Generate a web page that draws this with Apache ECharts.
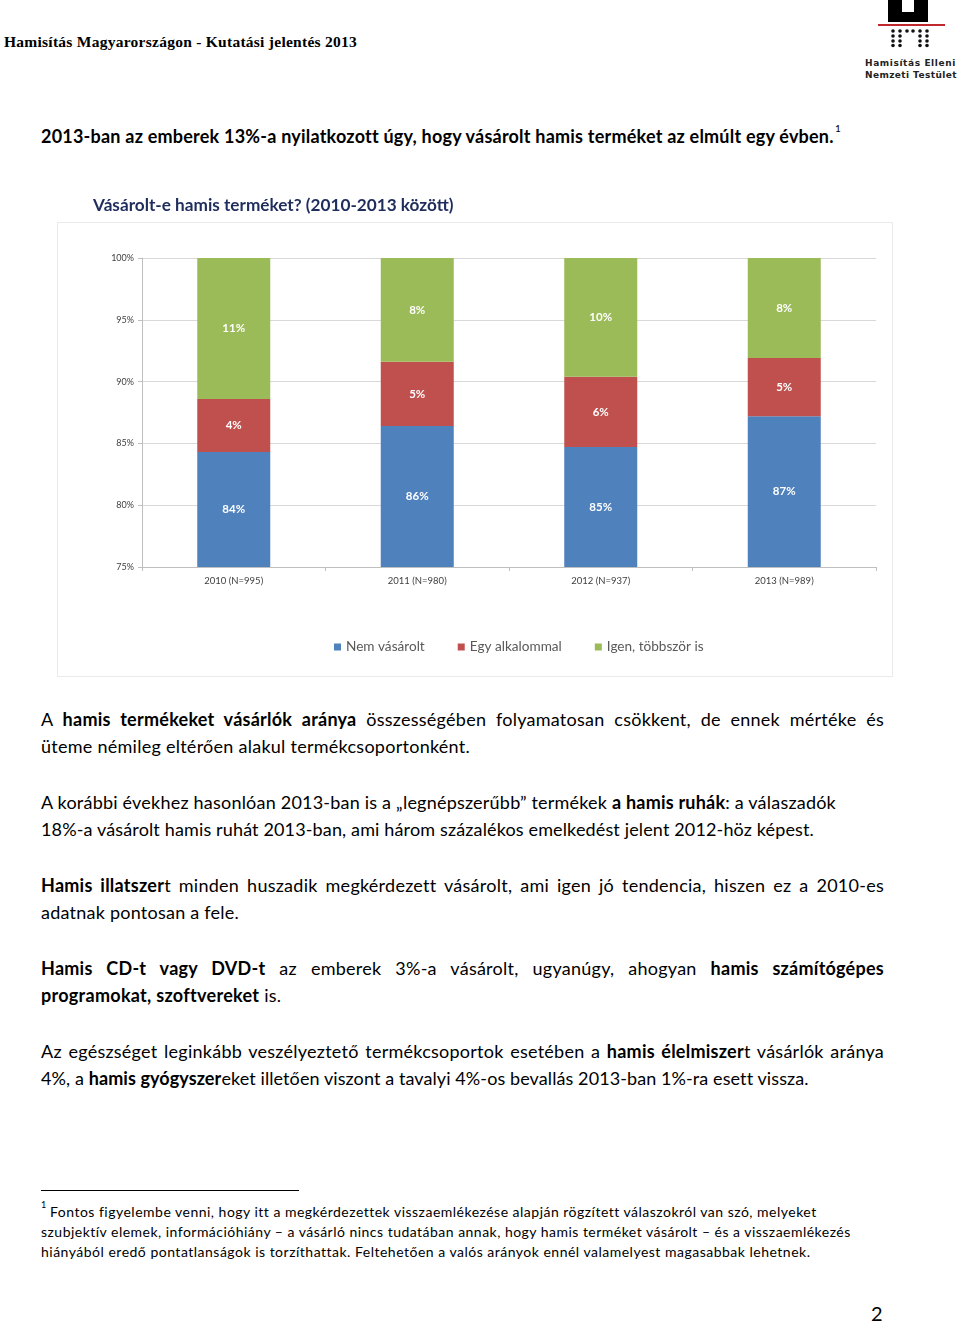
<!DOCTYPE html>
<html>
<head>
<meta charset="utf-8">
<script src="https://cdn.jsdelivr.net/npm/echarts@6/dist/echarts.min.js"></script>
<style>
  html, body { margin: 0; padding: 0; background: #fff; }
  body { width: 960px; height: 1321px; position: relative; overflow: hidden; font-family: Lato, "Open Sans", sans-serif; color: #000; }
  .ln { position: absolute; left: 41px; white-space: nowrap; font-size: 18px; line-height: 27px; display: inline-block; }
  .fn { font-size: 14px; line-height: 20px; }
  .hdr { position: absolute; left: 4px; top: 32px; font-family: "Liberation Serif", serif; font-weight: bold; font-size: 15.5px; line-height: 20px; white-space: nowrap; display: inline-block; }
  #frame { position: absolute; left: 57px; top: 222px; width: 834px; height: 453px; border: 1px solid #ebebeb; }
  #chart { position: absolute; left: 0; top: 180px; width: 960px; height: 510px; }
  #sep { position: absolute; left: 41px; top: 1190px; width: 258px; height: 0; border-top: 1px solid #000; }
  #pnum { position: absolute; left: 871px; top: 1300px; font-size: 20px; line-height: 26px; }
  #logo { position: absolute; left: 860px; top: 0; }
</style>
</head>
<body>
<div class="hdr" data-w="353">Hamisítás Magyarországon - Kutatási jelentés 2013</div>

<svg id="logo" width="100" height="86" viewBox="0 0 100 86">
  <path d="M28 0 H42 V12 H54 V0 H68 V22 H28 Z" fill="#000"/>
  <rect x="18" y="24" width="67" height="2" fill="#c0282d"/>
  <g fill="#111">
    <circle cx="33" cy="31" r="1.8"/><circle cx="40" cy="31" r="1.8"/><circle cx="47" cy="31" r="1.8"/>
    <circle cx="53" cy="31" r="1.8"/><circle cx="60" cy="31" r="1.8"/><circle cx="67" cy="31" r="1.8"/>
    <circle cx="33" cy="36" r="1.8"/><circle cx="40" cy="36" r="1.8"/><circle cx="60" cy="36" r="1.8"/><circle cx="67" cy="36" r="1.8"/>
    <circle cx="33" cy="41" r="1.8"/><circle cx="40" cy="41" r="1.8"/><circle cx="60" cy="41" r="1.8"/><circle cx="67" cy="41" r="1.8"/>
    <circle cx="33" cy="45.5" r="1.8"/><circle cx="40" cy="45.5" r="1.8"/><circle cx="60" cy="45.5" r="1.8"/><circle cx="67" cy="45.5" r="1.8"/>
  </g>
  <text x="5" y="66" font-family="DejaVu Sans, sans-serif" font-size="9" font-weight="bold" letter-spacing="0.6" fill="#222">Hamisítás Elleni</text>
  <text x="5" y="78" font-family="DejaVu Sans, sans-serif" font-size="9" font-weight="bold" letter-spacing="0.4" fill="#222">Nemzeti Testület</text>
</svg>

<div class="ln" style="top:123px; font-weight:bold;" data-w="792">2013-ban az emberek 13%-a nyilatkozott úgy, hogy vásárolt hamis terméket az elmúlt egy évben.</div>
<div class="ln" style="top:121px; left:835px; font-size:10px; line-height:14px;">1</div>

<div id="frame"></div>
<div id="chart"></div>

<div class="ln" style="top:706px;" data-w="843" data-j="1">A <b>hamis termékeket vásárlók aránya</b> összességében folyamatosan csökkent, de ennek mértéke és</div>
<div class="ln" style="top:733px;" data-w="429">üteme némileg eltérően alakul termékcsoportonként.</div>

<div class="ln" style="top:789px;" data-w="795">A korábbi évekhez hasonlóan 2013-ban is a „legnépszerűbb” termékek <b>a hamis ruhák</b>: a válaszadók</div>
<div class="ln" style="top:816px;" data-w="773">18%-a vásárolt hamis ruhát 2013-ban, ami három százalékos emelkedést jelent 2012-höz képest.</div>

<div class="ln" style="top:872px;" data-w="843" data-j="1"><b>Hamis illatszer</b>t minden huszadik megkérdezett vásárolt, ami igen jó tendencia, hiszen ez a 2010-es</div>
<div class="ln" style="top:899px;" data-w="198">adatnak pontosan a fele.</div>

<div class="ln" style="top:955px;" data-w="843" data-j="1"><b>Hamis CD-t vagy DVD-t</b> az emberek 3%-a vásárolt, ugyanúgy, ahogyan <b>hamis számítógépes</b></div>
<div class="ln" style="top:982px;" data-w="240"><b>programokat, szoftvereket</b> is.</div>

<div class="ln" style="top:1038px;" data-w="843" data-j="1">Az egészséget leginkább veszélyeztető termékcsoportok esetében a <b>hamis élelmiszer</b>t vásárlók aránya</div>
<div class="ln" style="top:1065px;" data-w="767">4%, a <b>hamis gyógyszer</b>eket illetően viszont a tavalyi 4%-os bevallás 2013-ban 1%-ra esett vissza.</div>

<div id="sep"></div>
<div class="ln fn" style="top:1199px; font-size:9px; line-height:12px;">1</div>
<div class="ln fn" style="top:1202px; left:50px;" data-w="765">Fontos figyelembe venni, hogy itt a megkérdezettek visszaemlékezése alapján rögzített válaszokról van szó, melyeket</div>
<div class="ln fn" style="top:1222px;" data-w="810">szubjektív elemek, információhiány – a vásárló nincs tudatában annak, hogy hamis terméket vásárolt – és a visszaemlékezés</div>
<div class="ln fn" style="top:1242px;" data-w="769">hiányából eredő pontatlanságok is torzíthattak. Feltehetően a valós arányok ennél valamelyest magasabbak lehetnek.</div>

<div id="pnum">2</div>

<script>
// ---- chart data ----
const categories = ['2010 (N=995)', '2011 (N=980)', '2012 (N=937)', '2013 (N=989)'];
const seriesNames = ['Nem vásárolt', 'Egy alkalommal', 'Igen, többször is'];
const nemVasarolt = [84.3, 86.4, 84.7, 87.2];
const egyAlkalommal = [4.3, 5.2, 5.7, 4.7];
const igenTobbszor = [11.4, 8.4, 9.6, 8.1];
const yTicks = { min: 75, max: 100, interval: 5 };

const colors = ['#4F81BD', '#C0504D', '#9BBB59'];
const valueSets = [nemVasarolt, egyAlkalommal, igenTobbszor];

const chart = echarts.init(document.getElementById('chart'), null, { renderer: 'canvas' });
const fontFam = 'Lato, "Open Sans", sans-serif';

chart.setOption({
  animation: false,
  title: {
    text: 'Vásárolt-e hamis terméket? (2010-2013 között)',
    left: 93, top: 17, padding: 0,
    textStyle: { fontFamily: fontFam, fontSize: 17.2, fontWeight: 'bold', color: '#1F2D5C' }
  },
  legend: {
    data: seriesNames,
    left: 334, top: 460, padding: 0,
    icon: 'rect', itemWidth: 7, itemHeight: 7, itemGap: 33,
    textStyle: { fontFamily: fontFam, fontSize: 13.6, color: '#595959' }
  },
  grid: { left: 142, right: 84, top: 78, bottom: 123, containLabel: false },
  xAxis: {
    type: 'category',
    data: categories,
    axisLine: { lineStyle: { color: '#bfbfbf' } },
    axisTick: { show: true, length: 4, lineStyle: { color: '#bfbfbf' } },
    axisLabel: { fontFamily: fontFam, fontSize: 9.5, color: '#404040', margin: 9 }
  },
  yAxis: {
    type: 'value',
    min: yTicks.min, max: yTicks.max, interval: yTicks.interval,
    axisLine: { show: true, lineStyle: { color: '#bfbfbf' } },
    axisTick: { show: true, length: 4, lineStyle: { color: '#bfbfbf' } },
    axisLabel: { formatter: '{value}%', fontFamily: fontFam, fontSize: 9, color: '#404040', margin: 8 },
    splitLine: { lineStyle: { color: '#d9d9d9', width: 1 } }
  },
  series: seriesNames.map((name, i) => ({
    name: name,
    type: 'bar',
    stack: 'total',
    barWidth: 73,
    clip: true,
    data: valueSets[i],
    itemStyle: { color: colors[i] },
    label: {
      show: true, position: 'inside',
      formatter: p => Math.round(p.value) + '%',
      color: '#fff', fontWeight: 'bold', fontSize: 11.5, fontFamily: fontFam
    }
  }))
});

// ---- fit document text lines to their measured widths ----
// natural lines: stretch letter spacing; justified lines: small base letter spacing, rest to word spacing
function fitLines() {
  document.querySelectorAll('[data-w]').forEach(el => {
    const w = parseFloat(el.dataset.w);
    const justified = el.dataset.j === '1';
    el.style.letterSpacing = '0px';
    el.style.wordSpacing = '0px';
    const txt = el.textContent;
    const chars = txt.length;
    const spaces = (txt.match(/ /g) || []).length;
    let nat = el.getBoundingClientRect().width;
    if (!justified) {
      el.style.letterSpacing = ((w - nat) / chars) + 'px';
    } else {
      const base = 0.25;
      el.style.letterSpacing = base + 'px';
      nat = el.getBoundingClientRect().width;
      if (spaces > 0) el.style.wordSpacing = ((w - nat) / spaces) + 'px';
    }
  });
}
fitLines();
if (document.fonts && document.fonts.ready) document.fonts.ready.then(fitLines);
</script>
</body>
</html>
